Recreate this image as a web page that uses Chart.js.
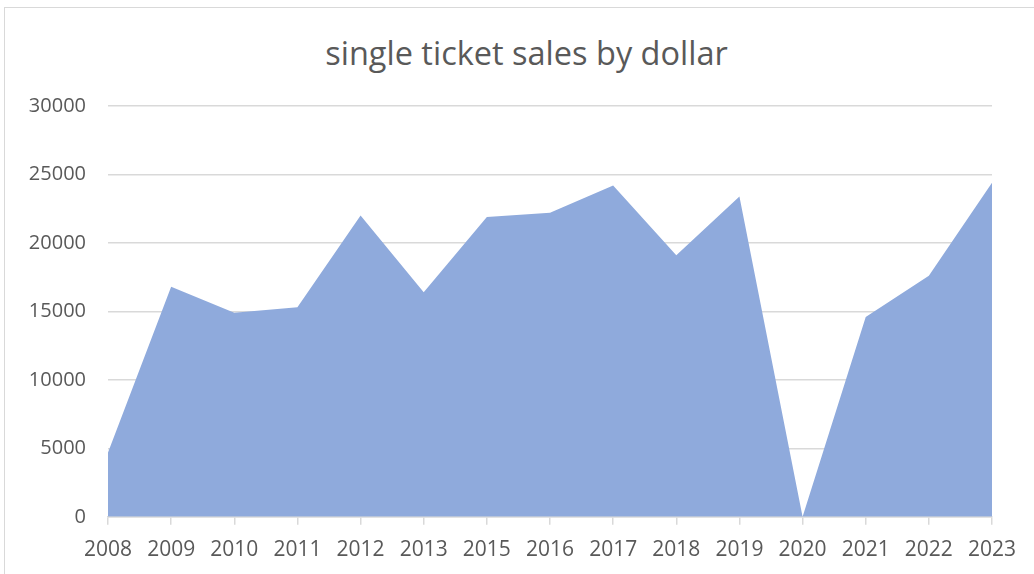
<!DOCTYPE html>
<html lang="en">
<head>
    <meta charset="UTF-8">
    <title>single ticket sales by dollar</title>
    <script src="https://cdn.jsdelivr.net/npm/chart.js"></script>
    <style>
        html, body { margin: 0; padding: 0; background: #fff; overflow: hidden; }
        #frame { position: absolute; left: 4px; top: 7px; width: 1040px; height: 580px; border: 1px solid #d9d9d9; box-sizing: border-box; }
        #wrap { position: absolute; left: 0; top: 0; width: 1034px; height: 574px; }
        #chartTitle { position: absolute; left: 19px; width: 1015px; top: 34px; line-height: 38px; text-align: center;
            font-family: 'Open Sans', sans-serif; font-size: 32.5px; color: #595959; }
    </style>
</head>
<body>
<div id="frame"></div>
<div id="chartTitle">single ticket sales by dollar</div>
<div id="wrap"><canvas id="salesChart"></canvas></div>
<script>
  const years = ['2008', '2009', '2010', '2011', '2012', '2013', '2015', '2016',
    '2017', '2018', '2019', '2020', '2021', '2022', '2023'];
  const sales = [4700, 16800, 14900, 15300, 22000, 16400, 21900, 22200,
    24200, 19100, 23400, 0, 14600, 17600, 24400];
  const yTicks = [0, 5000, 10000, 15000, 20000, 25000, 30000];

  const grey = '#595959';
  const lineGrey = '#d9d9d9';

  new Chart(document.getElementById('salesChart'), {
    type: 'line',
    data: {
      labels: years,
      datasets: [{
        label: 'Sales',
        data: sales,
        fill: 'origin',
        backgroundColor: '#8faadc',
        borderWidth: 0,
        pointRadius: 0,
        tension: 0
      }]
    },
    options: {
      responsive: true,
      maintainAspectRatio: false,
      animation: false,
      // top padding leaves room for the html title above the plot
      layout: { padding: { left: 0, right: 42, top: 106, bottom: -2 } },
      plugins: {
        legend: { display: false },
        tooltip: { enabled: false },
        title: { display: false }
      },
      scales: {
        x: {
          offset: false,
          grid: { drawOnChartArea: false, drawTicks: true, tickLength: 8, color: lineGrey, lineWidth: 1.5 },
          border: { display: true, color: lineGrey, width: 1.5 },
          ticks: {
            color: grey,
            font: { family: 'Open Sans', size: 21 },
            padding: 13,
            maxRotation: 0,
            autoSkip: false
          }
        },
        y: {
          min: 0,
          max: 30000,
          afterFit: (scale) => { scale.width = 108; },
          afterBuildTicks: (scale) => { scale.ticks = yTicks.map(v => ({ value: v })); },
          grid: { color: lineGrey, lineWidth: 1.5, drawTicks: false },
          border: { display: false },
          ticks: {
            color: grey,
            font: { family: 'Open Sans', size: 20 },
            padding: 22,
            callback: (v) => String(v)
          }
        }
      }
    }
  });
</script>
</body>
</html>
